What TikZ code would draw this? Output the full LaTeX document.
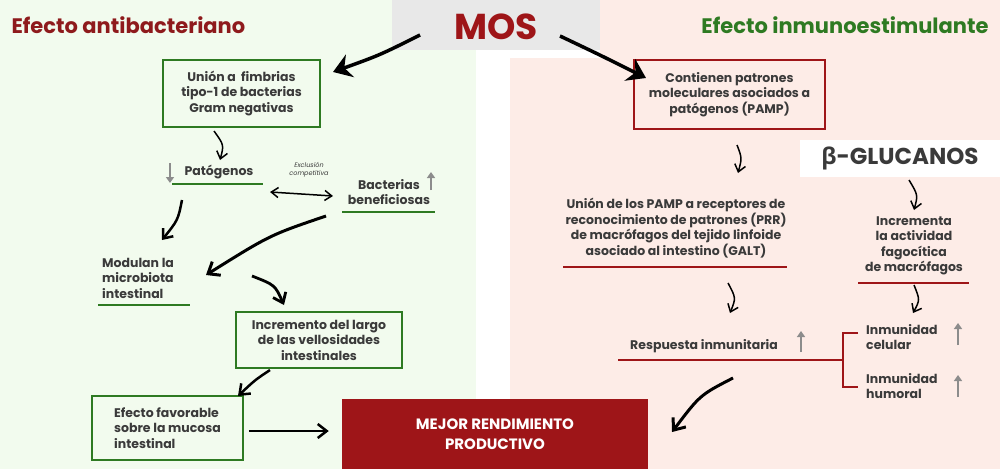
\documentclass[tikz,border=0pt]{standalone}
\usepackage{fontspec}
\setmainfont{Poppins}
\newfontfamily\grk{Open Sans}
\usetikzlibrary{arrows.meta}
\definecolor{gbg}{HTML}{F2FBEE}
\definecolor{pbg}{HTML}{FDECE7}
\definecolor{dred}{HTML}{8E1A1C}
\definecolor{bred}{HTML}{9E1518}
\definecolor{dgreen}{HTML}{2E7A22}
\definecolor{txt}{HTML}{3A3A3A}
\definecolor{garr}{HTML}{8C8C8C}
\begin{document}
\begin{tikzpicture}[x=1pt,y=-1pt,
 t/.style={font=\fontsize{12.5}{15.5}\selectfont\bfseries, text=txt, align=center, inner sep=0pt},
 gbox/.style={draw=dgreen, line width=1.5pt, fill=gbg},
 rbox/.style={draw=bred, line width=1.5pt, fill=pbg},
 big/.style={line width=3.5pt, -{Stealth[length=18pt,width=24pt,inset=6pt]}},
 sm/.style={line width=1.5pt, -{Straight Barb[length=7pt,width=11pt]}},
 gul/.style={draw=dgreen, line width=2pt},
 rul/.style={draw=bred, line width=2pt},
 up/.style={draw=garr, line width=2pt, -{Triangle[length=6pt,width=8pt]}}]
\useasboundingbox (0,0) rectangle (1000,469);
\fill[gbg] (0,0) rectangle (476,469);
\fill[pbg] (600,0) rectangle (1000,469);
\fill[pbg] (510,58) rectangle (600,469);
\fill[white] (476,50) rectangle (510,469);
\fill[white] (476,50) rectangle (600,58);
\fill[gray!18] (392,0) rectangle (600,50);
\node[font=\fontsize{36}{36}\selectfont\bfseries, text=bred] (mos) at (496,27) {MOS};
\node[font=\fontsize{21}{21}\selectfont\bfseries, text=dred, anchor=west] (t1) at (8,25) {Efecto antibacteriano};
\node[font=\fontsize{21}{21}\selectfont\bfseries, text=dgreen, anchor=east] (t2) at (992,25) {Efecto inmunoestimulante};
% left column
\node[gbox, minimum width=157, minimum height=67, t] (b1) at (241.5,93.5) {Unión a \ fimbrias\\tipo-1 de bacterias\\Gram negativas};
\node[t] (pat) at (219,172) {Patógenos};
\draw[gul] (172,184) -- (263,184);
\draw[up] (170,163) -- (170,183);
\node[font=\fontsize{6.5}{8}\selectfont\itshape, text=txt, align=center] (exc) at (309,170) {Exclusión\\competitiva};
\node[t] (bac) at (389,192) {Bacterias\\beneficiosas};
\draw[gul] (342,212) -- (435,212);
\draw[up] (431,190) -- (431,172);
\draw[line width=1.5pt, {Straight Barb[length=7pt,width=10pt]}-{Straight Barb[length=7pt,width=10pt]}] (270,192) -- (333,196);
\node[t, align=left, anchor=west] (mod) at (102,278) {Modulan la\\microbiota\\intestinal};
\draw[gul] (98,305) -- (190,305);
\node[gbox, minimum width=166, minimum height=56, t] (b2) at (319,340) {Incremento del largo\\de las vellosidades\\intestinales};
\node[gbox, minimum width=151, minimum height=64, t, align=left] (b3) at (167.5,428) {Efecto favorable\\sobre la mucosa\\intestinal\hspace*{3.6em}};
\node[fill=bred, minimum width=306, minimum height=70, font=\fontsize{15}{20}\selectfont\bfseries, text=white, align=center] (mej) at (495,434) {MEJOR RENDIMIENTO\\PRODUCTIVO};
% right column
\node[rbox, minimum width=191, minimum height=69, t] (b4) at (729.5,94.5) {Contienen patrones\\moleculares asociados a\\patógenos (PAMP)};
\node[fill=white, minimum width=200, minimum height=37, font=\fontsize{23}{23}\selectfont\bfseries, text=txt] (beta) at (900,158) {{\grk β}-GLUCANOS};
\node[t] (uni) at (676,228) {Unión de los PAMP a receptores de\\reconocimiento de patrones (PRR)\\de macrófagos del tejido linfoide\\asociado al intestino (GALT)};
\draw[rul] (563,267) -- (787,267);
\node[t] (inc) at (914,246) {Incrementa\\la actividad\\fagocítica\\de macrófagos};
\draw[rul] (858,283) -- (969,283);
\node[t] (res) at (704,346) {Respuesta inmunitaria};
\draw[up] (801,352) -- (801,331);
\draw[rul] (618,360) -- (843,360);
\draw[rul] (858,333) -- (843,333) -- (843,387) -- (858,387);
\node[t, align=left, anchor=west] (cel) at (866,337) {Inmunidad\\celular};
\node[t, align=left, anchor=west] (hum) at (866,386) {Inmunidad\\humoral};
\draw[up] (958,345) -- (958,323);
\draw[up] (958,397) -- (958,375);
% arrows
\draw[big] (420,35) .. controls (380,55) .. (333,72);
\draw[big] (560,36) .. controls (600,55) .. (646,78);
\draw[sm] (214,131) .. controls (224,145) .. (220,160);
\draw[line width=2.5pt, -{Straight Barb[length=8pt,width=13pt]}] (182,200) .. controls (178,220) .. (162,240);
\draw[line width=3pt, -{Straight Barb[length=10pt,width=16pt]}] (326,216) .. controls (270,235) .. (206,275);
\draw[line width=2.8pt, -{Straight Barb[length=9pt,width=14pt]}] (252,276) .. controls (275,285) .. (284,305);
\draw[line width=2.5pt, -{Straight Barb[length=9pt,width=14pt]}] (270,370) .. controls (255,380) .. (238,396);
\draw[line width=2.5pt, -{Straight Barb[length=9pt,width=14pt]}] (b3.east) ++(5,3) -- ++(80,0);
\draw[sm] (737,145) .. controls (742,158) .. (738,173);
\draw[sm] (909,180) .. controls (918,195) .. (914,210);
\draw[sm] (728,283) .. controls (736,298) .. (730,313);
\draw[sm] (914,285) .. controls (920,300) .. (913,313);
\draw[line width=3pt, -{Straight Barb[length=10pt,width=16pt]}] (733,378) .. controls (700,395) .. (672,432);
\end{tikzpicture}
\end{document}
